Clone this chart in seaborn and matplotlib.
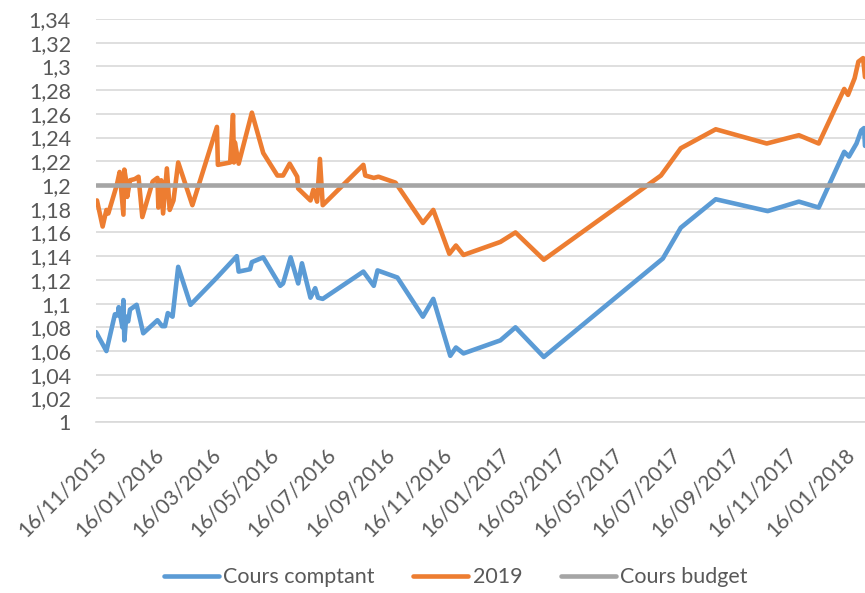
import pandas as pd
import seaborn as sns
import matplotlib.pyplot as plt
from matplotlib.ticker import FuncFormatter

# Cours comptant (blue)
spot_dates = ['2015-11-16', '2015-11-27', '2015-12-06', '2015-12-09', '2015-12-10', '2015-12-14',
              '2015-12-15', '2015-12-16', '2015-12-18', '2015-12-20', '2015-12-22', '2015-12-29',
              '2016-01-05', '2016-01-20', '2016-01-25', '2016-01-28', '2016-01-31', '2016-02-05',
              '2016-02-11', '2016-02-24', '2016-03-23', '2016-04-13', '2016-04-15', '2016-04-27',
              '2016-04-29', '2016-05-11', '2016-05-29', '2016-06-01', '2016-06-09', '2016-06-17',
              '2016-06-21', '2016-06-30', '2016-07-05', '2016-07-08', '2016-07-13', '2016-08-25',
              '2016-09-05', '2016-09-09', '2016-09-30', '2016-10-27', '2016-11-07', '2016-11-25',
              '2016-12-01', '2016-12-09', '2017-01-17', '2017-02-02', '2017-03-04', '2017-07-08',
              '2017-07-27', '2017-09-02', '2017-10-27', '2017-11-29', '2017-12-20', '2018-01-16',
              '2018-01-21', '2018-01-29', '2018-02-03', '2018-02-06', '2018-02-07']
spot_values = [1.076, 1.060, 1.091, 1.090, 1.097, 1.080,
               1.103, 1.069, 1.089, 1.085, 1.095, 1.099,
               1.075, 1.086, 1.081, 1.081, 1.092, 1.089,
               1.131, 1.099, 1.122, 1.140, 1.127, 1.129,
               1.135, 1.139, 1.115, 1.117, 1.139, 1.117,
               1.134, 1.105, 1.113, 1.105, 1.104, 1.127,
               1.115, 1.128, 1.122, 1.089, 1.104, 1.056,
               1.063, 1.058, 1.069, 1.080, 1.055, 1.138,
               1.164, 1.188, 1.178, 1.186, 1.181, 1.228,
               1.224, 1.235, 1.246, 1.248, 1.233]

# 2019 (orange)
fwd_dates = ['2015-11-17', '2015-11-23', '2015-11-27', '2015-11-29', '2015-12-08', '2015-12-11',
             '2015-12-15', '2015-12-16', '2015-12-18', '2015-12-19', '2015-12-22', '2015-12-27',
             '2015-12-31', '2016-01-04', '2016-01-15', '2016-01-20', '2016-01-21', '2016-01-24',
             '2016-01-26', '2016-01-30', '2016-02-02', '2016-02-06', '2016-02-11', '2016-02-26',
             '2016-03-23', '2016-03-24', '2016-04-06', '2016-04-09', '2016-04-10', '2016-04-11',
             '2016-04-15', '2016-04-29', '2016-05-11', '2016-05-26', '2016-06-01', '2016-06-08',
             '2016-06-16', '2016-06-17', '2016-06-30', '2016-07-03', '2016-07-07', '2016-07-10',
             '2016-07-13', '2016-08-25', '2016-08-27', '2016-09-05', '2016-09-10', '2016-09-28',
             '2016-10-27', '2016-11-07', '2016-11-24', '2016-12-01', '2016-12-09', '2017-01-17',
             '2017-02-02', '2017-03-04', '2017-07-06', '2017-07-27', '2017-09-02', '2017-10-26',
             '2017-11-29', '2017-12-20', '2018-01-16', '2018-01-20', '2018-01-27', '2018-01-31',
             '2018-02-05', '2018-02-07']
fwd_values = [1.187, 1.165, 1.179, 1.176, 1.200, 1.211,
              1.175, 1.213, 1.203, 1.190, 1.204, 1.205,
              1.207, 1.173, 1.203, 1.206, 1.181, 1.204,
              1.176, 1.214, 1.179, 1.187, 1.219, 1.183,
              1.249, 1.217, 1.219, 1.259, 1.219, 1.236,
              1.218, 1.261, 1.227, 1.208, 1.208, 1.218,
              1.207, 1.197, 1.187, 1.196, 1.186, 1.222,
              1.183, 1.217, 1.208, 1.206, 1.207, 1.202,
              1.168, 1.179, 1.142, 1.149, 1.141, 1.152,
              1.160, 1.137, 1.208, 1.231, 1.247, 1.235,
              1.242, 1.235, 1.281, 1.276, 1.290, 1.304,
              1.307, 1.291]

# Cours budget (gray, flat)
budget_dates = ['2015-11-16', '2018-02-07']
budget_values = [1.2, 1.2]

series_names = ['Cours comptant', '2019', 'Cours budget']
colors = ['#5B9BD5', '#ED7D31', '#A5A5A5']
tick_labels = ['16/11/2015', '16/01/2016', '16/03/2016', '16/05/2016', '16/07/2016', '16/09/2016',
               '16/11/2016', '16/01/2017', '16/03/2017', '16/05/2017', '16/07/2017', '16/09/2017',
               '16/11/2017', '16/01/2018']
tick_dates = pd.to_datetime(tick_labels, format='%d/%m/%Y')

df = pd.concat([
    pd.DataFrame({'date': pd.to_datetime(spot_dates), 'value': spot_values, 'serie': series_names[0]}),
    pd.DataFrame({'date': pd.to_datetime(fwd_dates), 'value': fwd_values, 'serie': series_names[1]}),
    pd.DataFrame({'date': pd.to_datetime(budget_dates), 'value': budget_values, 'serie': series_names[2]}),
], ignore_index=True)

sns.set_style('white')
plt.rcParams['font.family'] = ['Lato', 'DejaVu Sans']

fig = plt.figure(figsize=(8.65, 5.93), dpi=100)
ax = fig.add_axes([0.111, 0.288, 0.889, 0.68])

sns.lineplot(data=df, x='date', y='value', hue='serie', hue_order=series_names,
             palette=dict(zip(series_names, colors)), estimator=None, sort=False,
             linewidth=3.3, ax=ax)

ax.set_xlim(pd.Timestamp('2015-11-16'), pd.Timestamp('2018-02-07'))
ax.set_ylim(1, 1.34)
ax.set_yticks([1 + 0.02 * i for i in range(18)])
ax.yaxis.set_major_formatter(FuncFormatter(lambda v, p: f'{v:.2f}'.rstrip('0').rstrip('.').replace('.', ',')))
ax.set_xticks(tick_dates)
ax.set_xticklabels(tick_labels)

ax.grid(True, axis='y', color='#D9D9D9', linewidth=1.2)
ax.set_axisbelow(True)
for s in ['left', 'right', 'top']:
    ax.spines[s].set_visible(False)
ax.spines['bottom'].set_color('#D9D9D9')
ax.spines['bottom'].set_linewidth(1.2)
ax.tick_params(axis='x', colors='#D9D9D9', length=6, width=1.2, labelcolor='#595959',
               labelsize=15, pad=10)
ax.tick_params(axis='y', length=0, labelcolor='#595959', labelsize=15.5, pad=18)
plt.setp(ax.get_xticklabels(), rotation=45, ha='right', rotation_mode='anchor')
ax.set_xlabel('')
ax.set_ylabel('')

ax.legend(loc='center', bbox_to_anchor=(0.468, -0.385), ncol=3, frameon=False,
          fontsize=15.5, handlelength=2.55, columnspacing=1.8, handletextpad=0.2,
          labelcolor='#595959')

fig.savefig('out.png', dpi=100)
